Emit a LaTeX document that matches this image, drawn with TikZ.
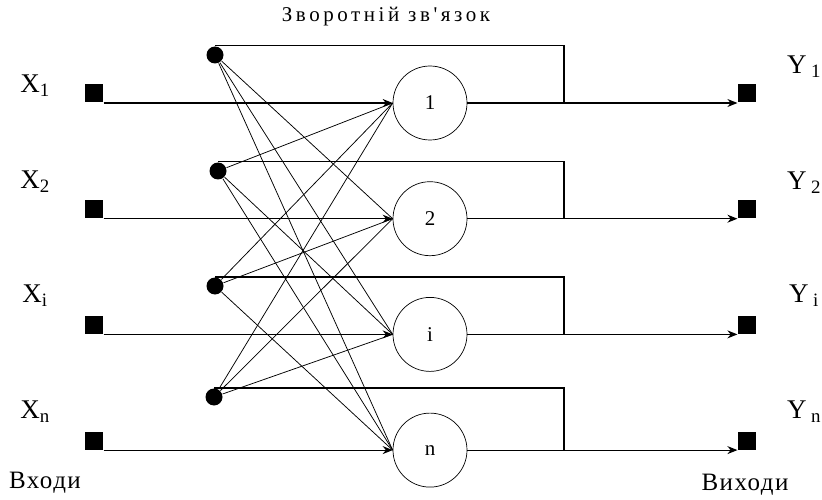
\documentclass[tikz,border=0pt]{standalone}
\usepackage{fontspec}
\setmainfont{Liberation Serif}
\newfontfamily\spacedfont[LetterSpace=17]{Liberation Serif}
\newfontfamily\widefont[LetterSpace=6]{Liberation Serif}
\usetikzlibrary{arrows.meta}

\begin{document}
\begin{tikzpicture}[x=1pt,y=1pt,>={Stealth[length=10pt,width=8pt]},line width=1.2pt,node distance=115.7pt,
  neuron/.style={circle,draw,line width=0.7pt,minimum size=74pt,inner sep=0pt,font=\fontsize{21}{23}\selectfont},
  insq/.style={rectangle,fill=black,minimum size=18pt,inner sep=0pt,anchor=south},
  fbdot/.style={circle,fill=black,minimum size=17pt,inner sep=0pt},
  lbl/.style={font=\fontsize{27}{29}\selectfont},
  cross/.style={line width=0.75pt}]

            \useasboundingbox (0,0) rectangle (822,499);

            \node[neuron] (n1) at (430,396) {1};
            \node[neuron] (n2) [below of=n1] {2};
            \node[neuron] (n3) [below of=n2] {i};
            \node[neuron] (n4) [below of=n3] {n};

            % inputs and outputs
            \node[insq] (x1) at (94,0 |- n1) {};
            \node[insq] (x2) at (94,0 |- n2) {};
            \node[insq] (x3) at (94,0 |- n3) {};
            \node[insq] (x4) at (94,0 |- n4) {};
            \node[insq] (y1) at (747,0 |- n1) {};
            \node[insq] (y2) at (747,0 |- n2) {};
            \node[insq] (y3) at (747,0 |- n3) {};
            \node[insq] (y4) at (747,0 |- n4) {};

            % feedback points
            \node[fbdot] (d1) at (215,444) {};
            \node[fbdot] (d2) at (218,328) {};
            \node[fbdot] (d3) at (215,213) {};
            \node[fbdot] (d4) at (214,102) {};
            \coordinate (j1) at (564,0 |- n1);
            \coordinate (j2) at (564,0 |- n2);
            \coordinate (j3) at (564,0 |- n3);
            \coordinate (j4) at (564,0 |- n4);

            \node[lbl] (lx1) at (35,413) {X\textsubscript{1}};
            \node[lbl] (lx2) at (35,317) {X\textsubscript{2}};
            \node[lbl] (lx3) at (35,203) {X\textsubscript{i}};
            \node[lbl] (lx4) at (35,87) {X\textsubscript{n}};
            \node[lbl] (ly1) at (804,432) {Y\,\textsubscript{1}};
            \node[lbl] (ly2) at (804,316) {Y\,\textsubscript{2}};
            \node[lbl] (ly3) at (804,203) {Y\,\textsubscript{i}};
            \node[lbl] (ly4) at (804,87) {Y\,\textsubscript{n}};

            \node[font=\spacedfont\fontsize{21}{23}\selectfont] (fb) at (386,482) {Зворотній зв'язок};
            \node[font=\widefont\fontsize{25}{27}\selectfont] (inp) at (45,16) {Входи};
            \node[font=\widefont\fontsize{25}{27}\selectfont] (outp) at (745,14) {Виходи};

            \draw[->] (x1.south east) -- (n1.west);
            \draw[->] (x2.south east) -- (n2.west);
            \draw[->] (x3.south east) -- (n3.west);
            \draw[->] (x4.south east) -- (n4.west);
            \draw[->] (n1.east) -- (y1.south west);
            \draw[->] (n2.east) -- (y2.south west);
            \draw[->] (n3.east) -- (y3.south west);
            \draw[->] (n4.east) -- (y4.south west);
            \draw (j1) |- (d1.north);
            \draw (j2) |- (d2.north);
            \draw (j3) |- (d3.north);
            \draw (j4) |- (d4.north);

            \draw[cross] (d1) -- (n2.west);
            \draw[cross] (d1) -- (n3.west);
            \draw[cross] (d1) -- (n4.west);
            \draw[cross] (d2) -- (n1.west);
            \draw[cross] (d2) -- (n3.west);
            \draw[cross] (d2) -- (n4.west);
            \draw[cross] (d3) -- (n1.west);
            \draw[cross] (d3) -- (n2.west);
            \draw[cross] (d3) -- (n4.west);
            \draw[cross] (d4) -- (n1.west);
            \draw[cross] (d4) -- (n2.west);
            \draw[cross] (d4) -- (n3.west);

        \end{tikzpicture}
\end{document}
